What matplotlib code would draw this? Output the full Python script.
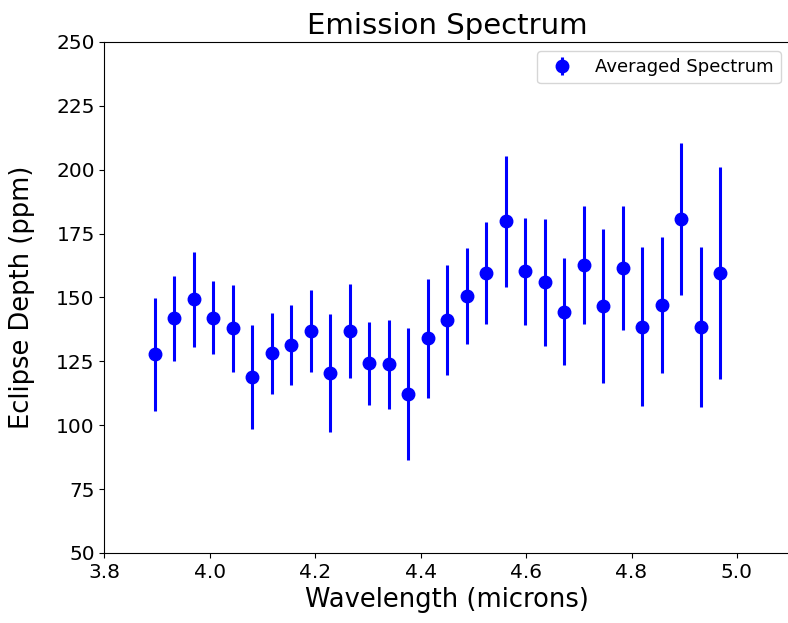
import numpy as np
import matplotlib.pyplot as plt

# Averaged emission spectrum
wavelength = [3.895, 3.932, 3.969, 4.006, 4.043, 4.080, 4.117, 4.154, 4.191, 4.228,
              4.265, 4.302, 4.339, 4.376, 4.413, 4.450, 4.487, 4.524, 4.561, 4.598,
              4.635, 4.672, 4.709, 4.746, 4.783, 4.820, 4.857, 4.894, 4.931, 4.968]
depth = [127.7, 141.8, 149.3, 142.1, 138.0, 119.0, 128.1, 131.4, 136.8, 120.5,
         136.8, 124.2, 123.8, 112.2, 134.0, 141.2, 150.4, 159.6, 179.8, 160.2,
         155.9, 144.5, 162.8, 146.7, 161.5, 138.6, 147.1, 180.8, 138.6, 159.6]
depth_err = [22.0, 16.5, 18.5, 14.3, 17.0, 20.4, 15.8, 15.5, 16.0, 23.2,
             18.5, 16.2, 17.4, 26.0, 23.3, 21.4, 18.8, 19.8, 25.7, 20.8,
             25.0, 21.0, 23.0, 30.0, 24.4, 31.0, 26.7, 29.8, 31.3, 41.4]

fig = plt.figure(figsize=(7.88, 6.23), dpi=100)
# the right side of the axes runs off the edge of the picture
ax = fig.add_axes([0.1326, 0.1124, 0.8695, 0.8202])

ax.errorbar(wavelength, depth, yerr=depth_err, fmt='o', color='b',
            markersize=9, elinewidth=2.2, capsize=0, label='Averaged Spectrum')

ax.set_xlim(3.8, 5.1)
ax.set_ylim(50, 250)
ax.set_xticks([3.8, 4.0, 4.2, 4.4, 4.6, 4.8, 5.0])
ax.set_yticks(np.arange(50, 251, 25))
ax.tick_params(labelsize=14.5)
ax.spines['right'].set_visible(False)

ax.set_xlabel('Wavelength (microns)', fontsize=18.5)
ax.set_ylabel('Eclipse Depth (ppm)', fontsize=18.5)
ax.yaxis.set_label_coords(-0.101, 0.5)
ax.set_title('Emission Spectrum', fontsize=21)
ax.legend(loc='upper right', fontsize=13)

fig.savefig('out.png', dpi=100)
